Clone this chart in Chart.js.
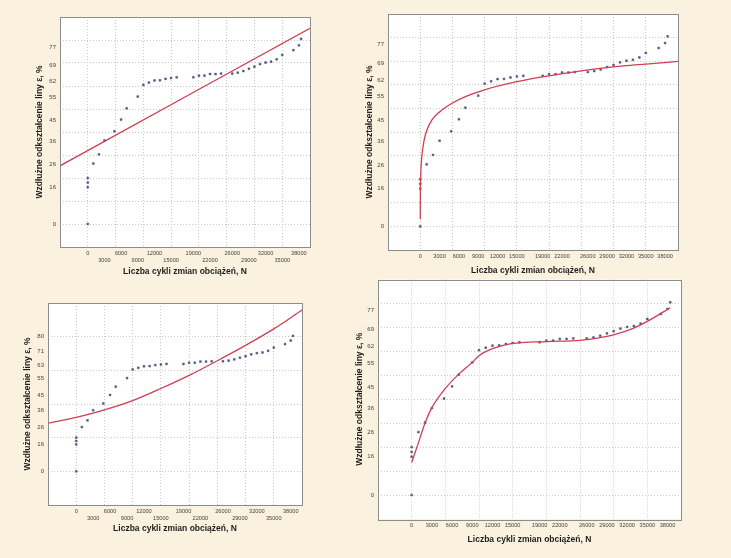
<!DOCTYPE html>
<html>
<head>
<meta charset="utf-8">
<script src="https://cdn.jsdelivr.net/npm/chart.js@4.4.0/dist/chart.umd.min.js"></script>
<style>
    body { margin: 0; background: #faf1de; width: 731px; height: 558px; overflow: hidden; position: relative; }
    canvas { position: absolute; }
</style>
</head>
<body>
<canvas id="c1" width="365" height="280" style="left:0;top:0;width:365px;height:280px"></canvas>
<canvas id="c2" width="366" height="280" style="left:365px;top:0;width:366px;height:280px"></canvas>
<canvas id="c3" width="365" height="278" style="left:0;top:280px;width:365px;height:278px"></canvas>
<canvas id="c4" width="391" height="296" style="left:340px;top:262px;width:391px;height:296px"></canvas>
<script>
// measured points (same set in all four panels)
const cycles = [0, 0, 0, 0, 1000, 2000, 3000, 4800, 6000, 7000, 9000, 10000, 11000, 12000, 13000, 14000, 15000, 16000,
    19000, 20000, 21000, 22000, 23000, 24000, 26000, 27000, 28000, 29000, 30000, 31000, 32000, 33000, 34000, 35000,
    37000, 38000, 38400];
const strain = [0, 16, 18, 20, 26.3, 30.3, 36.3, 40.3, 45.4, 50.3, 55.4, 60.5, 61.5, 62.4, 62.5, 63.1, 63.5, 63.8,
    63.8, 64.5, 64.5, 65.2, 65.2, 65.4, 65.4, 65.8, 66.5, 67.5, 68.4, 69.5, 70.2, 70.6, 71.6, 73.5,
    75.6, 77.7, 80.5];

// tick labels
const xTickValues = [0, 3000, 6000, 9000, 12000, 15000, 19000, 22000, 26000, 29000, 32000, 35000, 38000];
const yTickValues = [0, 16, 26, 36, 45, 55, 62, 69, 77];
const yTickValuesExp = [0, 16, 26, 36, 45, 55, 63, 71, 80];

// fitted curves
const linFitX = [-5000, 40000];
const linFitY = [25.3, 85.1];
const logFitX = [3, 15, 60, 150, 300, 600, 1000, 1800, 3000, 5000, 7000, 10000, 15000, 20000, 25000, 30000, 35000, 40000];
const logFitY = [3, 12, 20, 26, 31, 36.5, 40.5, 45, 48.5, 52.3, 55, 57.9, 61.3, 63.8, 65.9, 67.6, 68.8, 69.9];
const expFitX = [-5000, 0, 5000, 10000, 15000, 20000, 25000, 30000, 35000, 40000];
const expFitY = [28.5, 32, 36.5, 42, 49.2, 57, 65.7, 74.8, 84.6, 95.8];
const polyFitX = [0, 1000, 2000, 3000, 4900, 7000, 9000, 10000, 12000, 14800, 20000, 25000, 27800, 30000, 32800, 35000, 38400];
const polyFitY = [13.6, 21.8, 30.2, 36.5, 44.2, 50.5, 55.4, 58.2, 61.1, 63.2, 64.1, 64.6, 65.6, 66.9, 69.5, 72.5, 78.2];

const yTitle = 'Wzdłużne odkształcenie liny ε, %';
const xTitle = 'Liczba cykli zmian obciążeń, N';

Chart.defaults.font.family = "'Liberation Sans', Arial, sans-serif";

function pairs(xs, ys) {
    return xs.map((x, i) => ({ x: x, y: ys[i] }));
}

function mergeTicks(step, min, max, labels) {
    const vals = new Set(labels);
    for (let v = min; v <= max; v += step) vals.add(v);
    return [...vals].sort((a, b) => a - b).map(v => ({ value: v }));
}

// white plot area with grey frame
const plotFrame = {
    id: 'plotFrame',
    beforeDraw(chart) {
        const { ctx, chartArea: a } = chart;
        ctx.save();
        ctx.fillStyle = '#ffffff';
        ctx.fillRect(a.left, a.top, a.right - a.left, a.bottom - a.top);
        ctx.restore();
    },
    afterDraw(chart) {
        const { ctx, chartArea: a } = chart;
        ctx.save();
        ctx.strokeStyle = '#8c8c8c';
        ctx.lineWidth = 1;
        ctx.strokeRect(Math.round(a.left) + 0.5, Math.round(a.top) + 0.5,
            Math.round(a.right - a.left), Math.round(a.bottom - a.top));
        ctx.restore();
    }
};

function makePanel(id, p) {
    const ctx = document.getElementById(id);
    return new Chart(ctx, {
        type: 'scatter',
        data: {
            datasets: [
                {
                    data: pairs(p.fitX, p.fitY),
                    showLine: true,
                    borderColor: '#d03e50',
                    borderWidth: 1.3,
                    pointRadius: 0,
                    cubicInterpolationMode: 'monotone'
                },
                {
                    data: pairs(cycles, strain),
                    pointStyle: 'rect',
                    pointRadius: 1.3,
                    backgroundColor: '#4f5480',
                    borderColor: '#4f5480',
                    borderWidth: 0.5
                }
            ]
        },
        options: {
            responsive: false,
            devicePixelRatio: 1,
            animation: false,
            events: [],
            layout: { padding: p.padding },
            plugins: { legend: { display: false }, tooltip: { enabled: false } },
            scales: {
                x: {
                    type: 'linear',
                    min: -5000,
                    max: 40000,
                    afterBuildTicks: s => { s.ticks = mergeTicks(5000, 0, 35000, xTickValues); },
                    afterFit: s => { s.height = p.xHeight; },
                    grid: {
                        drawTicks: false,
                        color: c => (c.tick && c.tick.value % 5000 === 0) ? '#c6c6c6' : 'rgba(0,0,0,0)'
                    },
                    border: { display: false, dash: [1, 2] },
                    ticks: {
                        autoSkip: false,
                        maxRotation: 0,
                        padding: 3,
                        color: '#444444',
                        font: { size: 5.6, lineHeight: 1.2 },
                        callback: v => {
                            const i = xTickValues.indexOf(v);
                            if (i < 0) return '';
                            return (p.stagger && i % 2) ? ['', String(v)] : String(v);
                        }
                    },
                    title: {
                        display: true,
                        text: xTitle,
                        color: '#1e1e1e',
                        padding: 0,
                        font: { size: 8.5, weight: 'bold' }
                    }
                },
                y: {
                    type: 'linear',
                    min: p.yMin,
                    max: p.yMax,
                    afterBuildTicks: s => { s.ticks = mergeTicks(p.yStep, 0, p.yMax - p.yStep, p.yTicks); },
                    afterFit: s => { s.width = p.yWidth; },
                    grid: {
                        drawTicks: false,
                        color: c => (c.tick && c.tick.value % p.yStep === 0) ? '#c6c6c6' : 'rgba(0,0,0,0)'
                    },
                    border: { display: false, dash: [1, 2] },
                    ticks: {
                        autoSkip: false,
                        padding: 4,
                        color: '#444444',
                        font: { size: 6 },
                        callback: v => p.yTicks.includes(v) ? String(v) : ''
                    },
                    title: {
                        display: true,
                        text: yTitle,
                        color: '#1e1e1e',
                        padding: 0,
                        font: { size: 8.5, weight: 'bold' }
                    }
                }
            }
        },
        plugins: [plotFrame]
    });
}

makePanel('c1', {
    fitX: linFitX, fitY: linFitY, stagger: true,
    yMin: -10, yMax: 90, yStep: 10, yTicks: yTickValues,
    padding: { left: 35, right: 55, top: 17, bottom: 3 }, yWidth: 25, xHeight: 30
});
makePanel('c2', {
    fitX: logFitX, fitY: logFitY, stagger: false,
    yMin: -10, yMax: 90, yStep: 10, yTicks: yTickValues,
    padding: { left: 0, right: 53, top: 14, bottom: 4 }, yWidth: 23, xHeight: 26
});
makePanel('c3', {
    fitX: expFitX, fitY: expFitY, stagger: true,
    yMin: -20, yMax: 100, yStep: 20, yTicks: yTickValuesExp,
    padding: { left: 23, right: 63, top: 23, bottom: 24 }, yWidth: 25, xHeight: 29
});
makePanel('c4', {
    fitX: polyFitX, fitY: polyFitY, stagger: false,
    yMin: -10, yMax: 90, yStep: 10, yTicks: yTickValues,
    padding: { left: 15, right: 50, top: 17.5, bottom: 13 }, yWidth: 23, xHeight: 26
});
</script>
</body>
</html>
